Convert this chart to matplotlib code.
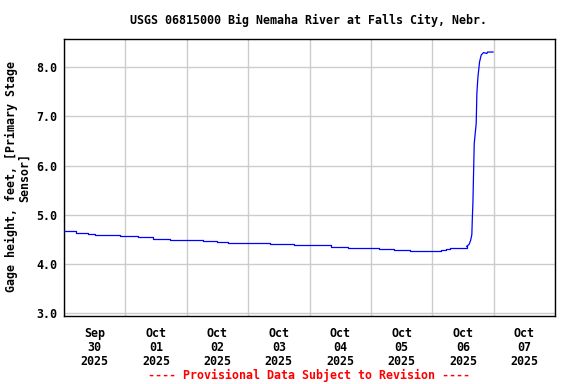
import matplotlib
matplotlib.use("Agg")
import matplotlib.pyplot as plt
import pandas as pd

title = "USGS 06815000 Big Nemaha River at Falls City, Nebr."
ylabel = "Gage height, feet, [Primary Stage\nSensor]"
footer = "---- Provisional Data Subject to Revision ----"

# days since 2025-09-30 00:00 and gage height (ft)
day_offsets = [0.00, 0.20, 0.39, 0.50, 0.91, 1.21, 1.45, 1.73, 2.27, 2.49,
               2.68, 3.36, 3.75, 4.35, 4.62, 5.14, 5.38, 5.63, 6.15, 6.22,
               6.29, 6.56, 6.60, 6.625, 6.645, 6.655, 6.662, 6.684, 6.716, 6.727,
               6.744, 6.771, 6.798, 6.836, 6.89, 6.90, 6.99]
gage_ft = [4.67, 4.64, 4.62, 4.595, 4.57, 4.55, 4.52, 4.495, 4.47, 4.445,
           4.425, 4.40, 4.38, 4.345, 4.32, 4.305, 4.285, 4.26, 4.29, 4.31,
           4.335, 4.36, 4.40, 4.48, 4.60, 5.00, 5.22, 6.45, 6.86, 7.47,
           7.80, 8.11, 8.25, 8.30, 8.28, 8.31, 8.31]
rise_index = 21  # recession/step section before this, rapid rise after

start = pd.Timestamp("2025-09-30 00:00")
times = [start + pd.Timedelta(days=d) for d in day_offsets]

tick_days = pd.date_range("2025-09-30", "2025-10-07", freq="D")
grid_days = pd.date_range("2025-09-30", "2025-10-08", freq="D")
yticks = [3.0, 4.0, 5.0, 6.0, 7.0, 8.0]

font = "DejaVu Sans Mono"
fs = 8.4

fig = plt.figure(figsize=(5.76, 3.84), dpi=100)
ax = fig.add_axes([64/576, 1 - 315.5/384, (555-64)/576, (315.5-39)/384])

ax.plot(times[:rise_index + 1], gage_ft[:rise_index + 1], color="#0000ff", lw=0.9,
        drawstyle="steps-post", zorder=3)
ax.plot(times[rise_index:], gage_ft[rise_index:], color="#0000ff", lw=0.9, zorder=3)

ax.set_xlim(grid_days[0], grid_days[-1])
ax.set_ylim(2.955, 8.575)

# gridlines at midnight (minor), labels at noon (major)
ax.set_xticks([d + pd.Timedelta(hours=12) for d in tick_days])
ax.set_xticklabels([f"{d.strftime('%b')}\n{d.strftime('%d')}\n{d.strftime('%Y')}" for d in tick_days],
                   fontfamily=font, fontweight="bold", fontsize=fs, linespacing=1.1)
ax.set_xticks(list(grid_days), minor=True)
ax.set_yticks(yticks)
ax.set_yticklabels([f"{v:.1f}" for v in yticks], fontfamily=font, fontweight="bold", fontsize=fs)

ax.tick_params(axis="both", which="both", length=0)
ax.tick_params(axis="x", which="major", pad=8)
ax.tick_params(axis="y", pad=5)
ax.grid(False)
ax.grid(True, axis="x", which="minor", color="#cccccc", lw=1.0)
ax.grid(True, axis="y", which="major", color="#cccccc", lw=1.0)
ax.set_axisbelow(True)
for s in ax.spines.values():
    s.set_color("black")
    s.set_linewidth(1.0)

fig.text(308/576, 1 - 20/384, title, ha="center", va="center",
         fontfamily=font, fontweight="bold", fontsize=fs)
fig.text(17.5/576, 1 - 177/384, ylabel, ha="center", va="center", rotation=90,
         multialignment="center", fontfamily=font, fontweight="bold", fontsize=fs,
         linespacing=1.0)
fig.text(309.5/576, 1 - 375/384, footer, ha="center", va="center", color="#ff0000",
         fontfamily=font, fontweight="bold", fontsize=fs)

fig.savefig("out.png", dpi=100)
